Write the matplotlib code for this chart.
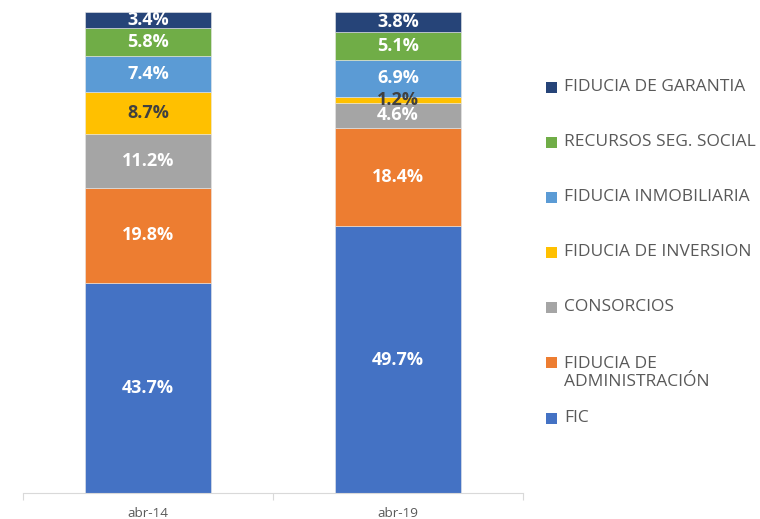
import numpy as np
import matplotlib
matplotlib.use("Agg")
import matplotlib.pyplot as plt
from matplotlib.patches import Rectangle

plt.rcParams['font.family'] = ['Open Sans', 'DejaVu Sans']

# data (percent labels as shown; bars are drawn as 100% stacked)
periods = ['abr-14', 'abr-19']
series_names = ['FIC', 'FIDUCIA DE\nADMINISTRACIÓN', 'CONSORCIOS', 'FIDUCIA DE INVERSION',
                'FIDUCIA INMOBILIARIA', 'RECURSOS SEG. SOCIAL', 'FIDUCIA DE GARANTIA']
fic = [43.7, 49.7]
fid_admin = [19.8, 18.4]
consorcios = [11.2, 4.6]
fid_inversion = [8.7, 1.2]
fid_inmob = [7.4, 6.9]
recursos = [5.8, 5.1]
fid_garantia = [3.4, 3.8]
colors = ['#4472C4', '#ED7D31', '#A5A5A5', '#FFC000', '#5B9BD5', '#70AD47', '#264478']
label_colors = ['white', 'white', 'white', '#404040', 'white', 'white', 'white']

series = [fic, fid_admin, consorcios, fid_inversion, fid_inmob, recursos, fid_garantia]
vals = np.array(series, dtype=float)
shares = vals / vals.sum(axis=0)

fig = plt.figure(figsize=(7.6, 5.19), dpi=100)
ax = fig.add_axes([23/760, 26/519, 500/760, 481/519])

x = np.arange(len(periods))
bottom = np.zeros(len(periods))
for i in range(len(series)):
    ax.bar(x, shares[i], 0.504, bottom=bottom, color=colors[i], edgecolor='#E8E8E8', linewidth=0.4)
    for j in range(len(periods)):
        ax.text(x[j], bottom[j] + shares[i][j] / 2, f'{vals[i][j]:.1f}%', ha='center', va='center',
                fontsize=13, fontweight='bold', color=label_colors[i])
    bottom += shares[i]

ax.set_xlim(-0.5, 1.5)
ax.set_ylim(0, 1.0)
ax.set_yticks([])
ax.set_xticks(x, periods, fontsize=9.7, color='#595959')
ax.set_xticks([-0.5, 0.5, 1.5], minor=True)
ax.tick_params(axis='x', which='major', length=0, pad=10)
ax.tick_params(axis='x', which='minor', length=5, color='#D9D9D9', width=0.8)
for s in ['top', 'right', 'left']:
    ax.spines[s].set_visible(False)
ax.spines['bottom'].set_color('#D9D9D9')
ax.spines['bottom'].set_linewidth(0.8)

# legend, top entry first
legend_y = [87, 142, 197, 252, 307, 373, 418]
for k, idx in enumerate([6, 5, 4, 3, 2, 1, 0]):
    yc = legend_y[k]
    sq_y = yc if idx != 1 else 362
    fig.patches.append(Rectangle((546/760, 1 - (sq_y + 5.5)/519), 11/760, 11/519,
                                 transform=fig.transFigure, facecolor=colors[idx], edgecolor='none'))
    fig.text(564/760, 1 - yc/519, series_names[idx], ha='left', va='center', fontsize=12.5,
             color='#595959', linespacing=1.2)

fig.savefig('out.png', dpi=100)
